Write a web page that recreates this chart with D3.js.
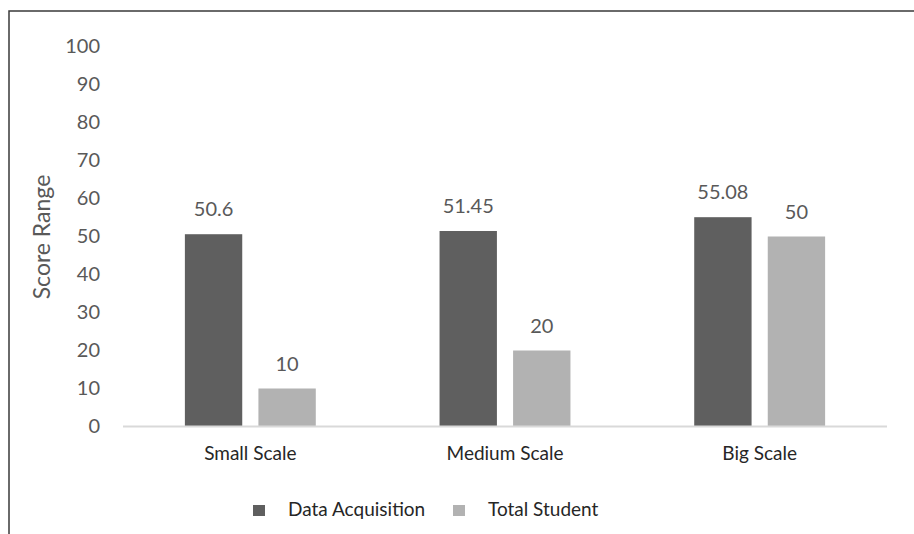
<!DOCTYPE html>
<html>
<head>
<meta charset="utf-8">
<script src="https://cdn.jsdelivr.net/npm/d3@7"></script>
<style>
  html, body { margin: 0; padding: 0; background: #fff; }
  svg { display: block; font-family: Lato, "Open Sans", sans-serif; }
</style>
</head>
<body>
<svg id="chart" width="914" height="534"></svg>
<script>
// chart data
var categories = ['Small Scale', 'Medium Scale', 'Big Scale'];
var seriesNames = ['Data Acquisition', 'Total Student'];
var dataAcquisition = [50.6, 51.45, 55.08];
var totalStudent = [10, 20, 50];
var yTicks = [0, 10, 20, 30, 40, 50, 60, 70, 80, 90, 100];

var colors = { 'Data Acquisition': '#5f5f5f', 'Total Student': '#b2b2b2' };
var textColor = '#595959';

var svg = d3.select('#chart');

// outer frame (only top + left visible in the screenshot)
svg.append('path')
  .attr('d', 'M9,534 L9,11 L914,11')
  .attr('fill', 'none')
  .attr('stroke', '#3a3a3a')
  .attr('stroke-width', 1.5);

var plot = { left: 123, right: 887, top: 46.5, bottom: 426.5 };

var y = d3.scaleLinear().domain([0, 100]).range([plot.bottom, plot.top]);
var x0 = d3.scaleBand().domain(categories)
  .range([plot.left, plot.right])
  .paddingInner(0.486).paddingOuter(0.243);
var x1 = d3.scaleBand().domain(seriesNames)
  .range([0, x0.bandwidth()])
  .paddingInner(0.22);

// rows: one per category
var rows = categories.map(function(c, i) {
  return { cat: c, values: [
    { name: seriesNames[0], v: dataAcquisition[i] },
    { name: seriesNames[1], v: totalStudent[i] }
  ]};
});

// y axis labels (no line, no ticks)
var yAxis = d3.axisLeft(y).tickValues(yTicks).tickSize(0).tickPadding(0);
var yg = svg.append('g').attr('transform', 'translate(' + 100 + ',0)').call(yAxis);
yg.select('.domain').remove();
yg.selectAll('text')
  .attr('fill', textColor)
  .style('font-size', '20px')
  .style('font-family', 'Lato, "Open Sans", sans-serif');

// bars
var groups = svg.append('g').selectAll('g').data(rows).enter().append('g')
  .attr('transform', function(d) { return 'translate(' + x0(d.cat) + ',0)'; });

groups.selectAll('rect').data(function(d) { return d.values; }).enter().append('rect')
  .attr('x', function(d) { return x1(d.name); })
  .attr('y', function(d) { return y(d.v); })
  .attr('width', x1.bandwidth())
  .attr('height', function(d) { return y(0) - y(d.v); })
  .attr('fill', function(d) { return colors[d.name]; });

groups.selectAll('text.val').data(function(d) { return d.values; }).enter().append('text')
  .attr('class', 'val')
  .attr('x', function(d) { return x1(d.name) + x1.bandwidth() / 2; })
  .attr('y', function(d) { return y(d.v) - 18; })
  .attr('text-anchor', 'middle')
  .attr('fill', textColor)
  .style('font-size', '20px')
  .text(function(d) { return d.v; });

// x axis baseline + category labels
var xAxis = d3.axisBottom(x0).tickSize(0).tickPadding(20);
var xg = svg.append('g').attr('transform', 'translate(0,' + plot.bottom + ')').call(xAxis);
xg.select('.domain')
  .attr('d', 'M' + plot.left + ',0H' + plot.right)
  .attr('stroke', '#d9d9d9')
  .attr('stroke-width', 2);
xg.selectAll('text')
  .attr('fill', '#262626')
  .style('font-size', '19px')
  .style('font-family', 'Lato, "Open Sans", sans-serif');

// y axis title
svg.append('text')
  .attr('transform', 'translate(50,237) rotate(-90)')
  .attr('text-anchor', 'middle')
  .attr('fill', textColor)
  .style('font-size', '23px')
  .text('Score Range');

// legend
var legendItems = [
  { name: seriesNames[0], x: 253 },
  { name: seriesNames[1], x: 453 }
];
var lg = svg.append('g').selectAll('g').data(legendItems).enter().append('g')
  .attr('transform', function(d) { return 'translate(' + d.x + ',505)'; });
lg.append('rect')
  .attr('width', 12).attr('height', 11)
  .attr('fill', function(d) { return colors[d.name]; });
lg.append('text')
  .attr('x', 35).attr('y', 11)
  .attr('fill', '#262626')
  .style('font-size', '19px')
  .text(function(d) { return d.name; });
</script>
</body>
</html>
